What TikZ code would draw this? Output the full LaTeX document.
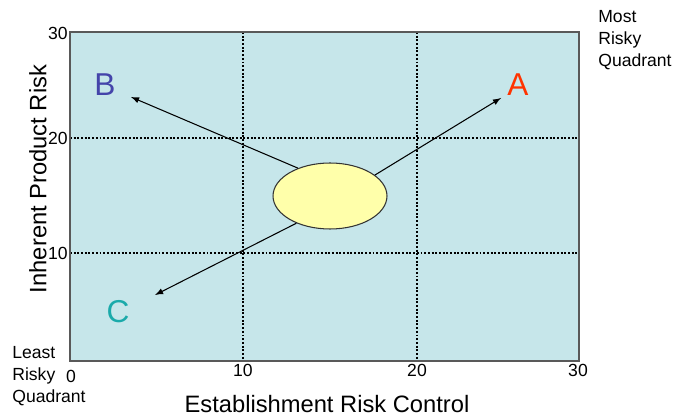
\documentclass[tikz,border=0pt]{standalone}
\usepackage{fontspec}
\setmainfont{Liberation Sans}
\usetikzlibrary{shapes.geometric}
\definecolor{panel}{HTML}{C6E6EA}
\definecolor{blob}{HTML}{FFFFAA}
\definecolor{redA}{HTML}{FF3300}
\definecolor{blueB}{HTML}{4444AA}
\definecolor{tealC}{HTML}{1AAAAA}
\tikzset{
  gridline/.style={black,line width=1.1pt,densely dotted},
  ticklbl/.style={font=\fontsize{10}{12}\selectfont,inner sep=0pt},
  axislbl/.style={font=\fontsize{13.5}{16}\selectfont,inner sep=0pt},
  quadlbl/.style={font=\fontsize{10}{12.5}\selectfont,align=left,inner sep=0pt,anchor=north west},
  letter/.style={font=\fontsize{18}{20}\selectfont,inner sep=0pt},
  move/.style={-latex,line width=0.6pt}
}
\begin{document}
\begin{tikzpicture}[x=0.02cm,y=-0.02cm]
\useasboundingbox (0,0) rectangle (683,415);

% Cadre
\fill[panel]
(70,32)
rectangle
(579,361);

\draw[gridline] (243,32) -- (243,361);
\draw[gridline] (417,32) -- (417,361);
\draw[gridline] (70,138) -- (579,138);
\draw[gridline] (70,253) -- (579,253);

\draw[black!65,line width=0.8pt]
(70,32)
rectangle
(579,361);

% Graduations
\node[ticklbl,anchor=east] (y30) at (68,33) {30};
\node[ticklbl,anchor=east] (y20) at (68,138) {20};
\node[ticklbl,anchor=east] (y10) at (68,253) {10};
\node[ticklbl] (x0) at (71,376) {0};
\node[ticklbl] (x10) at (243,370) {10};
\node[ticklbl] (x20) at (417,370) {20};
\node[ticklbl] (x30) at (578,370) {30};

% Axes
\node[axislbl] (xaxis) at (327,404) {Establishment Risk Control};
\node[axislbl,rotate=90] (yaxis) at (38,179) {Inherent Product Risk};

% Quadrants
\node[quadlbl] (most) at (598,10) {Most\\Risky\\Quadrant};
\node[quadlbl] (least) at (12,346) {Least\\Risky\\Quadrant};

% Positions
\node[ellipse,draw=black!80,fill=blob,line width=0.6pt,
  minimum width=2.28cm,minimum height=1.32cm,inner sep=0pt]
(now) at (330,196) {};

\node[letter,text=redA] (A) at (518,85) {A};
\node[letter,text=blueB] (B) at (105,85) {B};
\node[letter,text=tealC] (C) at (118,312) {C};

\coordinate (toA) at (501,98);
\coordinate (toB) at (131,97);
\coordinate (toC) at (155,295);

% Fleches
\draw[move]
(now.25.5)
--
(toA);

\draw[move]
(now.139)
--
(toB);

\draw[move]
(now.219.3)
--
(toC);

\end{tikzpicture}
\end{document}
